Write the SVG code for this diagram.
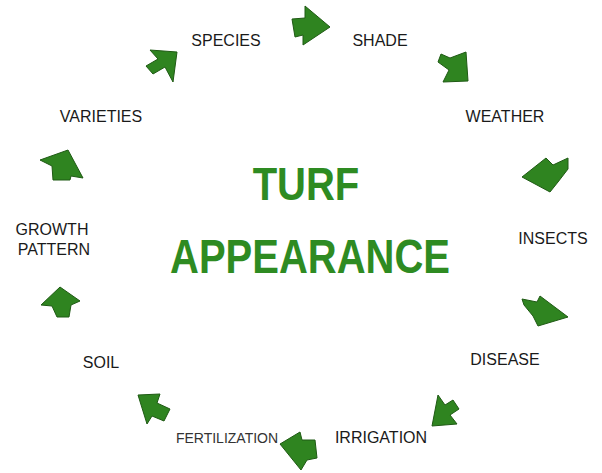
<svg xmlns="http://www.w3.org/2000/svg" width="602" height="473" viewBox="0 0 602 473">
<style>
.lbl{font-family:"Liberation Sans",Arial,sans-serif;font-size:16px;fill:#1a1a1a;text-anchor:middle}
.small{font-size:14px;fill:#333}
.title{font-family:"Liberation Sans",Arial,sans-serif;font-size:40px;font-weight:bold;fill:#2e8b22;text-anchor:middle}
.arr{fill:#2f8420;stroke:#1f5a14;stroke-width:1;stroke-linejoin:round}
</style>
<rect width="602" height="473" fill="#ffffff"/>
<g id="title">
<text class="title" transform="translate(306,200) scale(1,1.16)">TURF</text>
<text class="title" transform="translate(310,273) scale(1,1.2)">APPEARANCE</text>
</g>
<g id="species"><text class="lbl" x="226" y="46">SPECIES</text></g>
<g id="shade"><text class="lbl" x="380" y="46">SHADE</text></g>
<g id="weather"><text class="lbl" x="505" y="122">WEATHER</text></g>
<g id="insects"><text class="lbl" x="553" y="244">INSECTS</text></g>
<g id="disease"><text class="lbl" x="505" y="365">DISEASE</text></g>
<g id="irrigation"><text class="lbl" x="381" y="443">IRRIGATION</text></g>
<g id="fertilization"><text class="lbl small" x="227" y="443">FERTILIZATION</text></g>
<g id="soil"><text class="lbl" x="101" y="368">SOIL</text></g>
<g id="growth-pattern"><text class="lbl" x="52" y="235">GROWTH</text><text class="lbl" x="54" y="255">PATTERN</text></g>
<g id="varieties"><text class="lbl" x="101" y="122">VARIETIES</text></g>
<g id="connectors">
<polygon class="arr" points="292,19 305,18 305,6 330,27 303,45 303,35 295,37"/>
<polygon class="arr" points="441,54 450,58 466,52 468,81 443,82 449,70 438,62"/>
<polygon class="arr" points="522,177 546,158 553,165 568,158 568,169 558,182 550,192"/>
<polygon class="arr" points="522,299 537,302 540,296 568,317 538,326 533,316 524,305"/>
<polygon class="arr" points="438,395 445,405 453,400 459,409 450,415 457,424 432,426"/>
<polygon class="arr" points="280,444 300,432 302,440 315,440 317,458 307,460 301,470"/>
<polygon class="arr" points="138,395 160,394 157,403 170,409 164,421 152,416 147,424"/>
<polygon class="arr" points="60,287 80,301 71,305 69,317 57,317 52,306 41,305"/>
<polygon class="arr" points="68,150 83,178 71,176 70,180 53,180 52,166 40,160"/>
<polygon class="arr" points="177,52 173,82 165,67 153,74 146,66 158,59 150,50"/>
</g>
</svg>
